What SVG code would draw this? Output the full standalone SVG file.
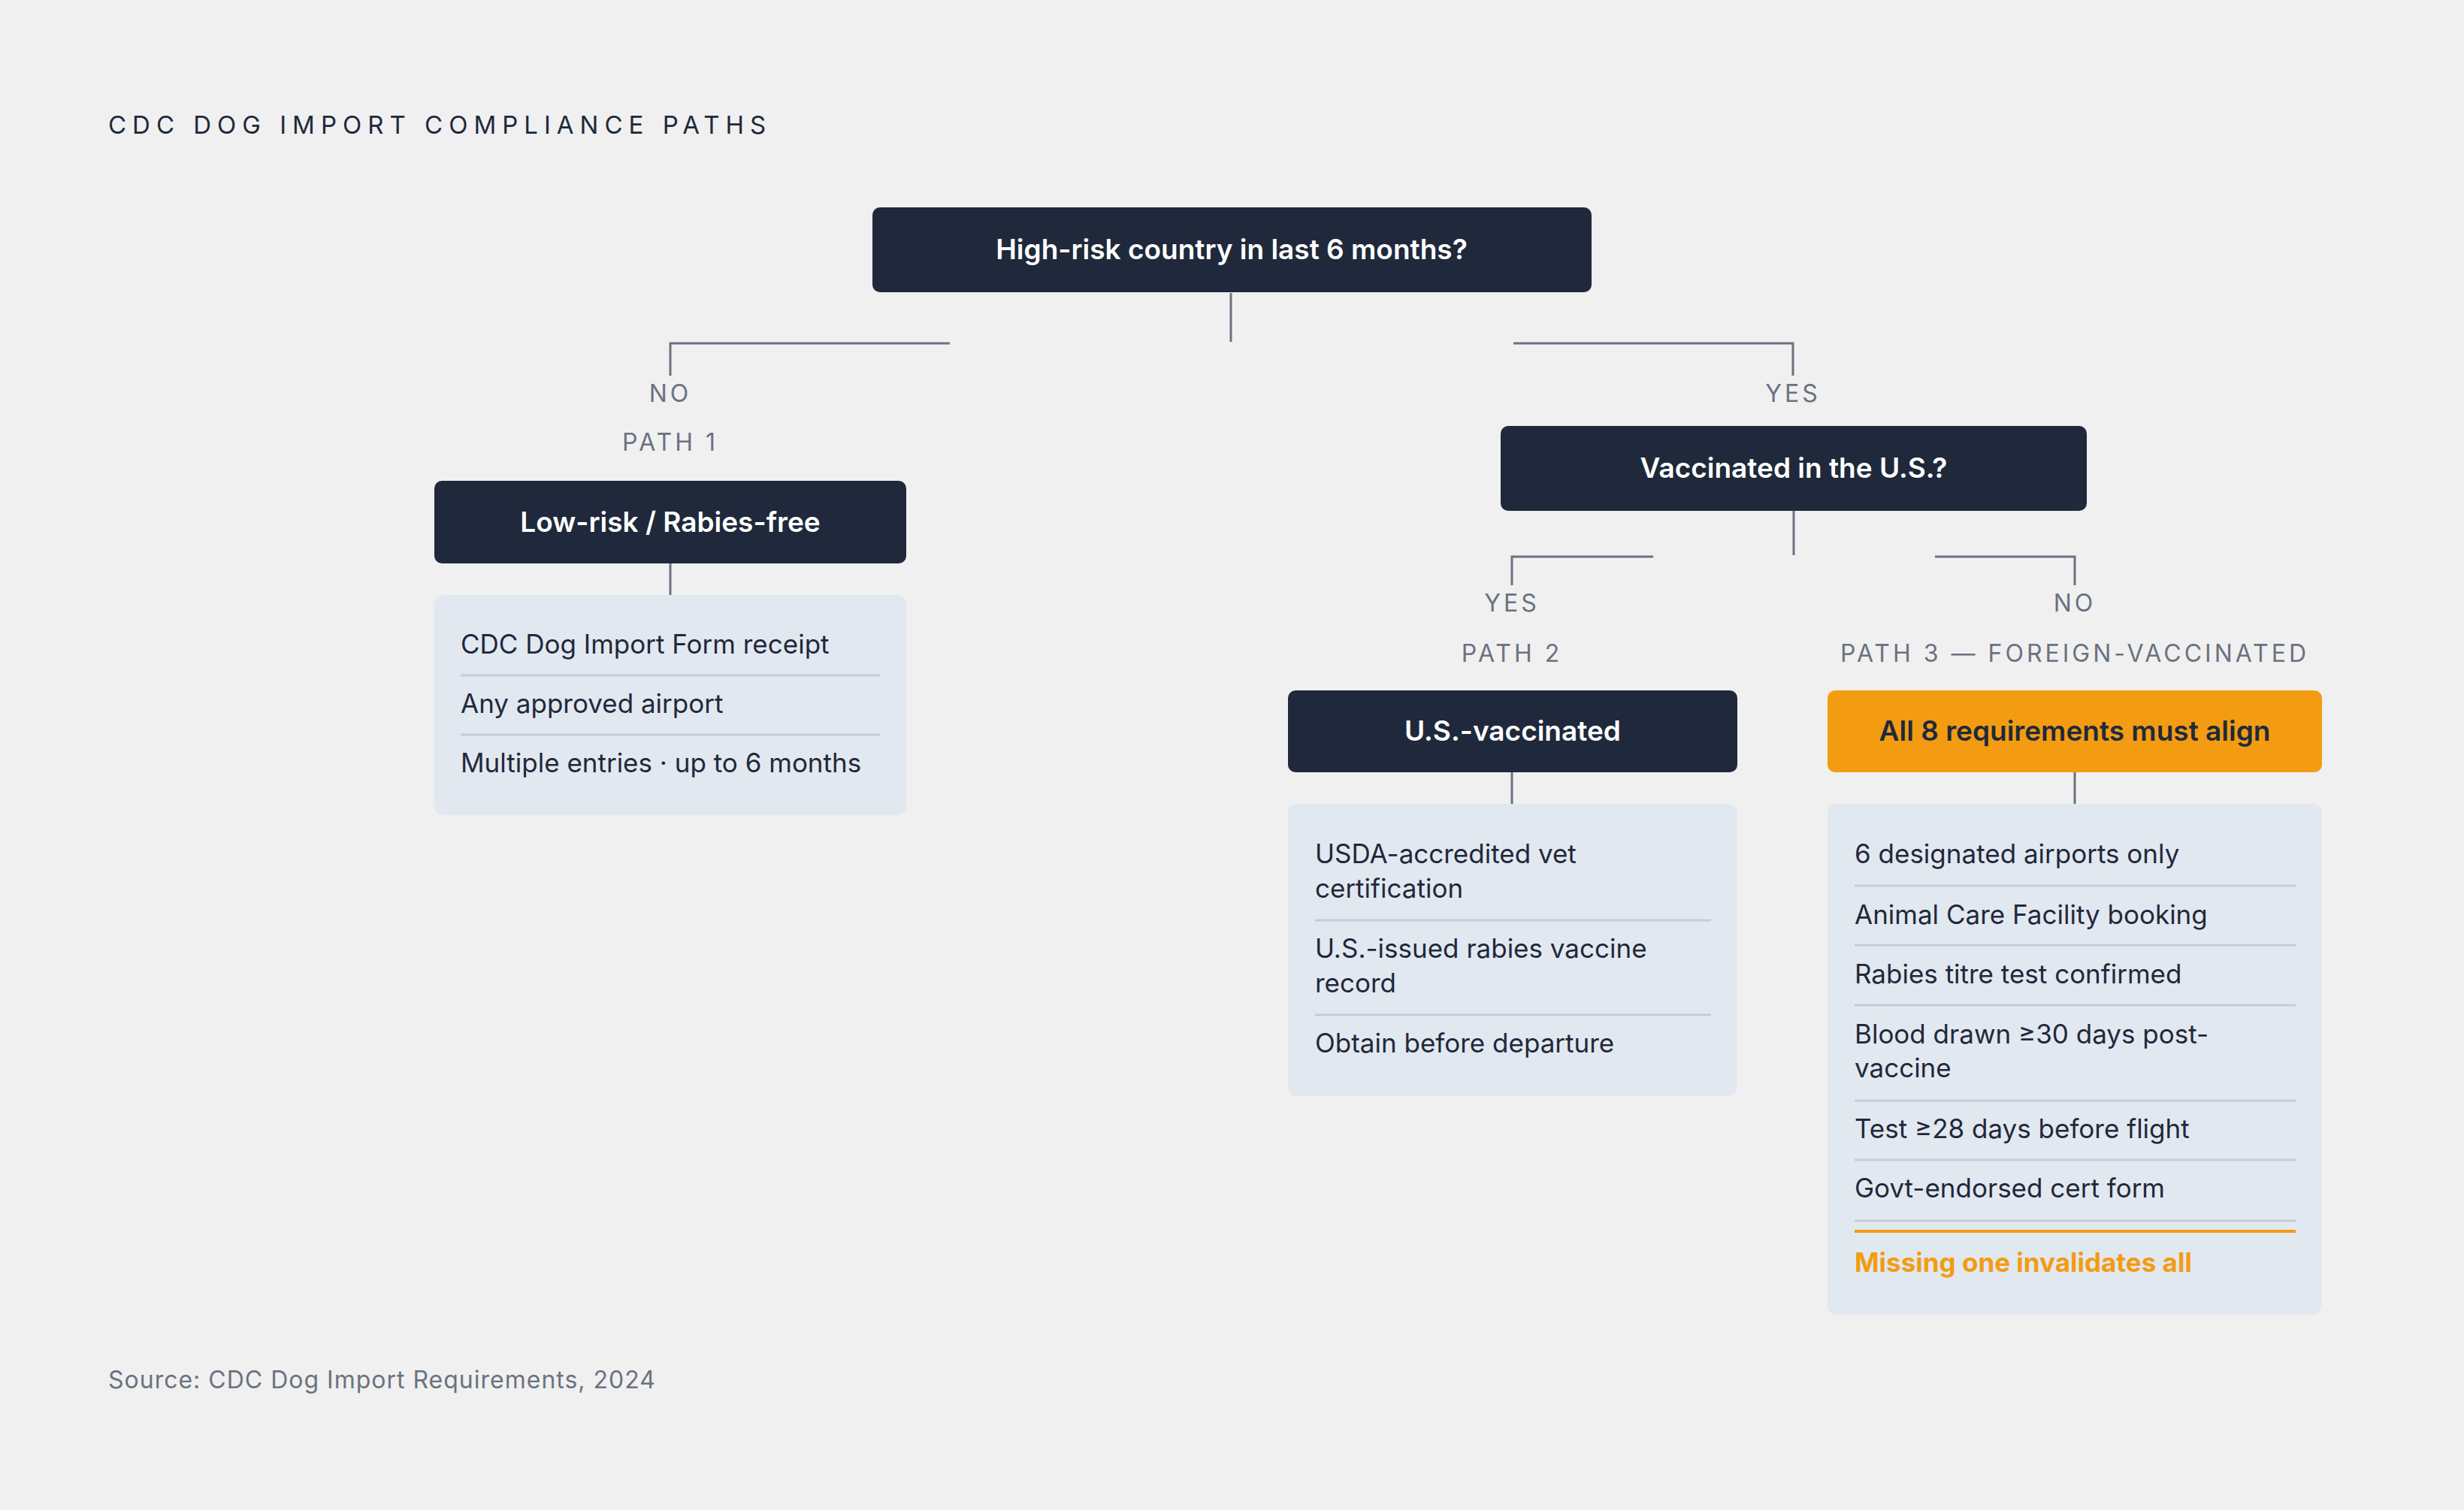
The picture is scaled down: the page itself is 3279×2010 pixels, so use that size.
<svg xmlns="http://www.w3.org/2000/svg" width="3279" height="2010" viewBox="0 0 3279 2010">
<style>
text{font-family:Inter,"Liberation Sans",sans-serif}
.dk{fill:#1f293b}
.or{fill:#f39c12}
.ls{fill:#e2e8f0}
.nt{fill:#ffffff;font-size:37px;font-weight:600;text-anchor:middle}
.it{fill:#1f293b;font-size:35px}
.lb{fill:#6b7280;font-size:32px;letter-spacing:4px;text-anchor:middle}
.dv{stroke:#c5ccd6;stroke-width:3}
.cn{stroke:#6b7280;stroke-width:3;fill:none}
</style>
<rect width="3279" height="2010" fill="#f0f0f0"/>
<text x="144" y="178" font-size="33" fill="#1f293b" letter-spacing="8">CDC DOG IMPORT COMPLIANCE PATHS</text>
<g id="connectors">
<path class="cn" d="M1638 390V455M1264 457H892V500M2014 457H2386V500M2387 680V739M2200 741H2012V779M2575 741H2761V779M892 750V792M2012 1028V1070M2761 1028V1070"/>
</g>
<g id="labels">
<text class="lb" x="892" y="535">NO</text>
<text class="lb" x="892" y="600">PATH 1</text>
<text class="lb" x="2386" y="535">YES</text>
<text class="lb" x="2012" y="814">YES</text>
<text class="lb" x="2012" y="881">PATH 2</text>
<text class="lb" x="2761" y="814">NO</text>
<text class="lb" x="2761" y="881">PATH 3 — FOREIGN-VACCINATED</text>
</g>
<g id="q1"><rect class="dk" x="1161" y="276" width="957" height="113" rx="10"/><text class="nt" x="1639" y="345">High-risk country in last 6 months?</text></g>
<g id="q2"><rect class="dk" x="1997" y="567" width="780" height="113" rx="10"/><text class="nt" x="2387" y="636">Vaccinated in the U.S.?</text></g>
<g id="path1"><rect class="dk" x="578" y="640" width="628" height="110" rx="10"/><text class="nt" x="892" y="708">Low-risk / Rabies-free</text></g>
<g id="list1"><rect class="ls" x="578" y="792" width="628" height="293" rx="12"/>
<text class="it" x="613" y="870">CDC Dog Import Form receipt</text><line class="dv" x1="613" y1="899" x2="1171" y2="899"/>
<text class="it" x="613" y="949">Any approved airport</text><line class="dv" x1="613" y1="978" x2="1171" y2="978"/>
<text class="it" x="613" y="1028">Multiple entries · up to 6 months</text></g>
<g id="path2"><rect class="dk" x="1714" y="919" width="598" height="109" rx="10"/><text class="nt" x="2013" y="986">U.S.-vaccinated</text></g>
<g id="list2"><rect class="ls" x="1714" y="1070" width="598" height="389" rx="12"/>
<text class="it" x="1750" y="1149">USDA-accredited vet</text><text class="it" x="1750" y="1195">certification</text><line class="dv" x1="1750" y1="1225" x2="2277" y2="1225"/>
<text class="it" x="1750" y="1275">U.S.-issued rabies vaccine</text><text class="it" x="1750" y="1321">record</text><line class="dv" x1="1750" y1="1351" x2="2277" y2="1351"/>
<text class="it" x="1750" y="1401">Obtain before departure</text></g>
<g id="path3"><rect class="or" x="2432" y="919" width="658" height="109" rx="10"/><text class="nt" x="2761" y="986" fill="#1f293b" style="fill:#1f293b">All 8 requirements must align</text></g>
<g id="list3"><rect class="ls" x="2432" y="1070" width="658" height="680" rx="12"/>
<text class="it" x="2468" y="1149">6 designated airports only</text><line class="dv" x1="2468" y1="1179" x2="3055" y2="1179"/>
<text class="it" x="2468" y="1230">Animal Care Facility booking</text><line class="dv" x1="2468" y1="1258" x2="3055" y2="1258"/>
<text class="it" x="2468" y="1309">Rabies titre test confirmed</text><line class="dv" x1="2468" y1="1338" x2="3055" y2="1338"/>
<text class="it" x="2468" y="1389">Blood drawn ≥30 days post-</text><text class="it" x="2468" y="1434">vaccine</text><line class="dv" x1="2468" y1="1465" x2="3055" y2="1465"/>
<text class="it" x="2468" y="1515">Test ≥28 days before flight</text><line class="dv" x1="2468" y1="1544" x2="3055" y2="1544"/>
<text class="it" x="2468" y="1594">Govt-endorsed cert form</text><line class="dv" x1="2468" y1="1625" x2="3055" y2="1625"/>
<line x1="2468" y1="1639" x2="3055" y2="1639" stroke="#f39c12" stroke-width="4"/>
<text x="2468" y="1693" font-size="35" font-weight="700" fill="#f39c12">Missing one invalidates all</text></g>
<text x="144" y="1848" font-size="32" fill="#6b7280" letter-spacing="1">Source: CDC Dog Import Requirements, 2024</text>
</svg>
